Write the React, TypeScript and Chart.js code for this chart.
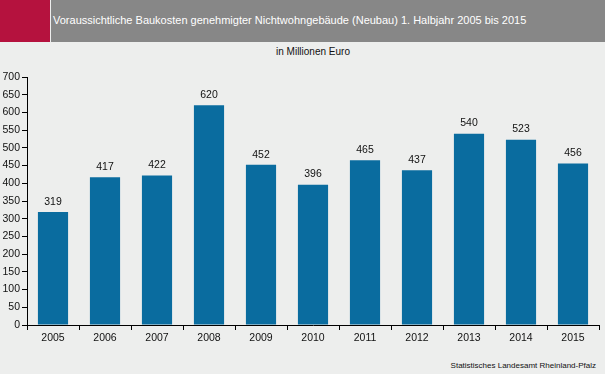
import React, { useEffect, useRef } from "react";
import { Chart, registerables } from "chart.js";

Chart.register(...registerables);

const categories = ["2005", "2006", "2007", "2008", "2009", "2010", "2011", "2012", "2013", "2014", "2015"];
const values = [319, 417, 422, 620, 452, 396, 465, 437, 540, 523, 456];
const titleText = "Voraussichtliche Baukosten genehmigter Nichtwohngebäude (Neubau) 1. Halbjahr 2005 bis 2015";
const subtitleText = "in Millionen Euro";
const sourceText = "Statistisches Landesamt Rheinland-Pfalz";

const FONT = "Arial, 'Liberation Sans', sans-serif";

const valueLabels = {
  id: "valueLabels",
  afterDatasetsDraw(chart: any) {
    const ctx = chart.ctx;
    const meta = chart.getDatasetMeta(0);
    ctx.save();
    ctx.font = `10.5px ${FONT}`;
    ctx.fillStyle = "#111";
    ctx.textAlign = "center";
    ctx.textBaseline = "bottom";
    meta.data.forEach((bar: any, i: number) => {
      ctx.fillText(String(values[i]), bar.x, bar.y - 5);
    });
    ctx.restore();
  },
};

export default function App() {
  const ref = useRef<HTMLCanvasElement>(null);
  useEffect(() => {
    document.body.style.margin = "0";
    const chart = new Chart(ref.current!, {
      type: "bar",
      data: {
        labels: categories,
        datasets: [
          {
            data: values,
            backgroundColor: "#0A6C9F",
            barPercentage: 0.58,
            categoryPercentage: 1,
          },
        ],
      },
      options: {
        animation: false,
        responsive: false,
        maintainAspectRatio: false,
        layout: { padding: { top: 77, right: 6, left: 0, bottom: 0 } },
        plugins: { legend: { display: false }, tooltip: { enabled: false } },
        scales: {
          x: {
            grid: { drawOnChartArea: false, drawTicks: true, tickLength: 5, color: "#000" },
            border: { color: "#000", width: 1 },
            ticks: { color: "#111", font: { family: FONT, size: 10.5 }, padding: 2, maxRotation: 0 },
            afterFit: (s: any) => { s.height = 49; },
          },
          y: {
            min: 0,
            max: 700,
            grid: { drawOnChartArea: false, drawTicks: true, tickLength: 5, color: "#000" },
            border: { color: "#000", width: 1 },
            ticks: { stepSize: 50, color: "#111", font: { family: FONT, size: 10.5 }, padding: 2 },
            afterFit: (s: any) => { s.width = 27; },
          },
        },
      },
      plugins: [valueLabels],
    });
    return () => chart.destroy();
  }, []);

  return (
    <div style={{ position: "fixed", left: 0, top: 0, width: 605, height: 374, background: "#EDEEED", overflow: "hidden", fontFamily: FONT }}>
      <div style={{ position: "absolute", left: 0, top: 0, width: 50, height: 42, background: "#B5123E" }} />
      <div style={{ position: "absolute", left: 51, top: 0, width: 554, height: 42, background: "#878787" }} />
      <div style={{ position: "absolute", left: 53, top: 13, fontSize: 11, color: "#fff", whiteSpace: "nowrap", lineHeight: "14px" }}>{titleText}</div>
      <div style={{ position: "absolute", left: 27, width: 572, top: 46, fontSize: 10, color: "#111", textAlign: "center", lineHeight: "12px" }}>{subtitleText}</div>
      <div style={{ position: "absolute", right: 9, top: 361, fontSize: 8, color: "#111", whiteSpace: "nowrap", lineHeight: "10px" }}>{sourceText}</div>
      <canvas ref={ref} width={605} height={374} style={{ position: "absolute", left: 0, top: 0 }} />
    </div>
  );
}
